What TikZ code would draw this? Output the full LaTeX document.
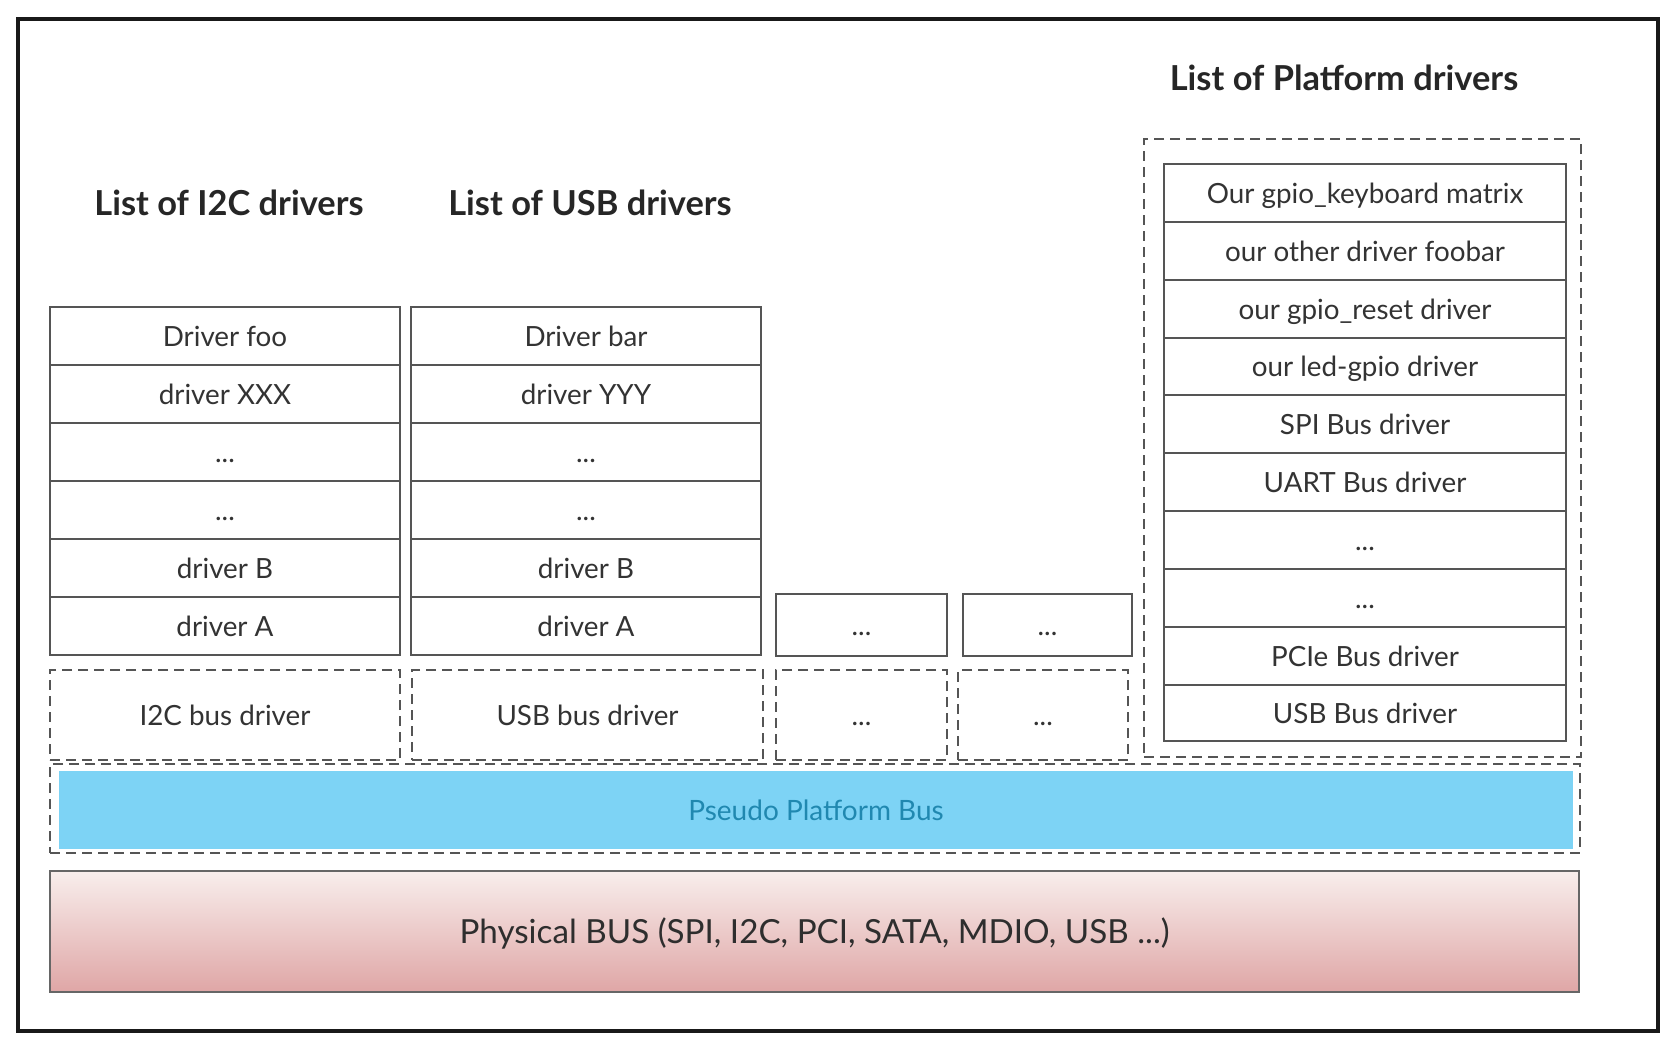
\documentclass[tikz,border=0pt]{standalone}
\usepackage{fontspec}
\setmainfont{Lato}
\definecolor{boxgray}{HTML}{555555}
\definecolor{txt}{HTML}{333333}
\definecolor{busblue}{HTML}{7DD3F5}
\definecolor{bustxt}{HTML}{2088B0}
\definecolor{physTop}{HTML}{F8EEEC}
\definecolor{physBot}{HTML}{DFA6A6}
\newcommand\cellbox[7]{%
  \node[#1, minimum width={(#5-#3)*0.5pt}, minimum height={(#6-#4)*0.5pt}] (#2) at ({(#3+#5)/2},{(#4+#6)/2}) {#7};}
\begin{document}
\begin{tikzpicture}[x=0.5pt,y=-0.5pt,
  cell/.style={draw=boxgray, line width=1.2pt, fill=white, text=txt, font=\fontsize{13.9}{16}\selectfont, inner sep=0pt, text height=10pt, text depth=0pt},
  dbox/.style={cell, fill=none, dash pattern=on 5pt off 3pt},
  heading/.style={font=\fontsize{17.2}{20}\selectfont\bfseries, text=black!85, anchor=base, inner sep=0pt},
  bluebar/.style={fill=busblue, draw=none, text=bustxt, font=\fontsize{14}{16}\selectfont, inner sep=0pt, text height=10pt, text depth=0pt},
  physbar/.style={draw=boxgray!90, line width=1.2pt, top color=physTop, bottom color=physBot, text=txt!90!black, font=\fontsize{16.6}{19}\selectfont, inner sep=0pt, text height=12pt, text depth=0pt}]
\useasboundingbox (0,0) rectangle (1680,1046);
\fill[white] (0,0) rectangle (1680,1046);
% outer frame
\cellbox{draw=black!90, line width=1.6pt, inner sep=0pt}{frame}{18}{19}{1658}{1031}{}
% headings
\node[heading] (hi2c) at (229,215) {List of I2C drivers};
\node[heading] (husb) at (590,215) {List of USB drivers};
\node[heading] (hplat) at (1344,90) {List of Platform drivers};
% I2C list
\cellbox{cell}{i1}{50}{307}{400}{365}{Driver foo}
\cellbox{cell}{i2}{50}{365}{400}{423}{driver XXX}
\cellbox{cell}{i3}{50}{423}{400}{481}{...}
\cellbox{cell}{i4}{50}{481}{400}{539}{...}
\cellbox{cell}{i5}{50}{539}{400}{597}{driver B}
\cellbox{cell}{i6}{50}{597}{400}{655}{driver A}
% USB list
\cellbox{cell}{u1}{411}{307}{761}{365}{Driver bar}
\cellbox{cell}{u2}{411}{365}{761}{423}{driver YYY}
\cellbox{cell}{u3}{411}{423}{761}{481}{...}
\cellbox{cell}{u4}{411}{481}{761}{539}{...}
\cellbox{cell}{u5}{411}{539}{761}{597}{driver B}
\cellbox{cell}{u6}{411}{597}{761}{655}{driver A}
% small lists
\cellbox{cell}{s1}{776}{594}{947}{656}{...}
\cellbox{cell}{s2}{963}{594}{1132}{656}{...}
% bus drivers (dashed)
\cellbox{dbox}{bi2c}{50}{670}{400}{760}{I2C bus driver}
\cellbox{dbox}{busb}{412}{670}{763}{760}{USB bus driver}
\cellbox{dbox}{bx1}{776}{670}{947}{760}{...}
\cellbox{dbox}{bx2}{958}{670}{1128}{760}{...}
% platform drivers
\cellbox{dbox}{pgroup}{1144}{139}{1581}{757}{}
\cellbox{cell}{p1}{1164}{164}{1566}{222}{Our gpio\_keyboard matrix}
\cellbox{cell}{p2}{1164}{222}{1566}{280}{our other driver foobar}
\cellbox{cell}{p3}{1164}{280}{1566}{338}{our gpio\_reset driver}
\cellbox{cell}{p4}{1164}{338}{1566}{395}{our led-gpio driver}
\cellbox{cell}{p5}{1164}{395}{1566}{453}{SPI Bus driver}
\cellbox{cell}{p6}{1164}{453}{1566}{511}{UART Bus driver}
\cellbox{cell}{p7}{1164}{511}{1566}{569}{...}
\cellbox{cell}{p8}{1164}{569}{1566}{627}{...}
\cellbox{cell}{p9}{1164}{627}{1566}{685}{PCIe Bus driver}
\cellbox{cell}{p10}{1164}{685}{1566}{741}{USB Bus driver}
% pseudo platform bus
\cellbox{dbox}{pseudoframe}{50}{764}{1580}{853}{}
\cellbox{bluebar}{pseudo}{59}{771}{1573}{849}{Pseudo Platform Bus}
% physical bus
\cellbox{physbar}{phys}{50}{871}{1579}{992}{Physical BUS (SPI, I2C, PCI, SATA, MDIO, USB ...)}
\end{tikzpicture}
\end{document}
